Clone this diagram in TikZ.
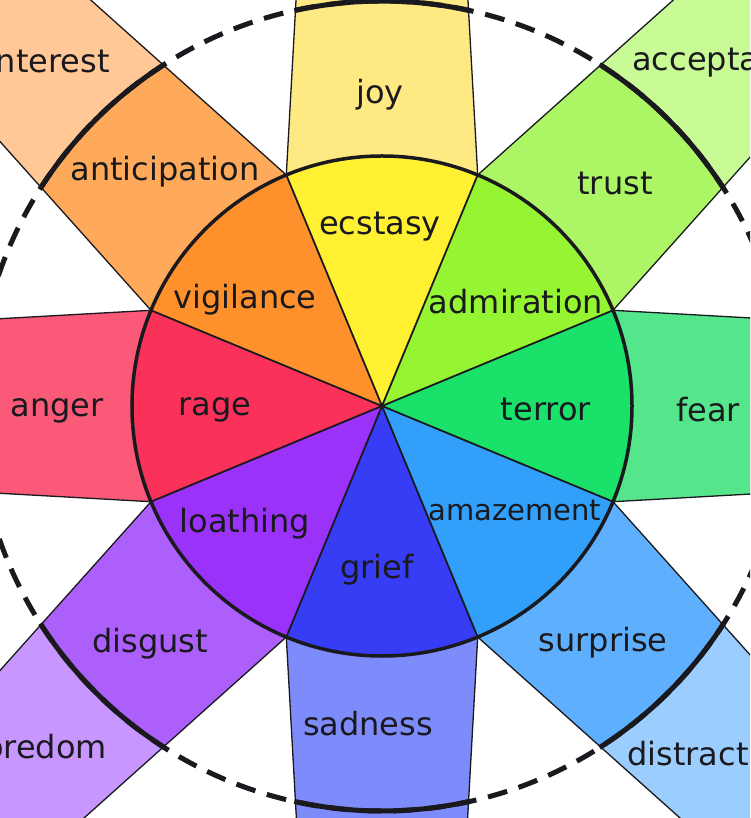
\documentclass[tikz,border=0pt]{standalone}
\usepackage{fontspec}
\setmainfont{DejaVu Sans}
\definecolor{ecstasyC}{RGB}{255,240,50}
\definecolor{joyC}{RGB}{255,233,130}
\definecolor{admirationC}{RGB}{150,245,50}
\definecolor{trustC}{RGB}{172,245,100}
\definecolor{acceptanceC}{RGB}{200,250,150}
\definecolor{terrorC}{RGB}{25,225,105}
\definecolor{fearC}{RGB}{85,230,140}
\definecolor{amazementC}{RGB}{50,160,250}
\definecolor{surpriseC}{RGB}{95,175,255}
\definecolor{distractionC}{RGB}{155,205,255}
\definecolor{griefC}{RGB}{55,60,245}
\definecolor{sadnessC}{RGB}{125,140,250}
\definecolor{loathingC}{RGB}{155,50,250}
\definecolor{disgustC}{RGB}{172,95,250}
\definecolor{boredomC}{RGB}{200,150,255}
\definecolor{rageC}{RGB}{250,50,90}
\definecolor{angerC}{RGB}{250,90,120}
\definecolor{vigilanceC}{RGB}{255,145,45}
\definecolor{anticipationC}{RGB}{255,170,90}
\definecolor{interestC}{RGB}{255,200,150}
\definecolor{inkC}{RGB}{25,25,30}
\begin{document}
\begin{tikzpicture}[x=1pt,y=1pt,
  lbl/.style={font=\fontsize{32}{36}\selectfont, text=inkC, inner sep=0pt},
  petaledge/.style={line width=1.3pt, draw=inkC},
  sectorline/.style={line width=1.8pt, draw=inkC},
  ring/.style={line width=3.5pt, draw=inkC},
  outerring/.style={line width=5pt, draw=inkC}]
\useasboundingbox (-382,-412) rectangle (368,406);
\clip (-382,-412) rectangle (368,406);
% petals
\foreach \ang/\mc/\lc in {90/joyC/joyC, 45/trustC/acceptanceC, 0/fearC/fearC,
   -45/surpriseC/distractionC, -90/sadnessC/sadnessC, -135/disgustC/boredomC,
   180/angerC/angerC, 135/anticipationC/interestC}{
  \begin{scope}[rotate=\ang]
    \fill[\lc] (0,0) -- (231,95.7) -- (700,69.6) -- (700,-69.6) -- (231,-95.7) -- cycle;
    \begin{scope}
      \clip (0,0) circle (405);
      \fill[\mc] (0,0) -- (231,95.7) -- (700,69.6) -- (700,-69.6) -- (231,-95.7) -- cycle;
    \end{scope}
    \draw[petaledge] (231,95.7) -- (700,69.6) (231,-95.7) -- (700,-69.6);
  \end{scope}
}
% outer dashed ring, solid over petals
\draw[outerring, dash pattern=on 20pt off 12pt] (0,0) circle (405);
\foreach \ang in {90,45,0,-45,-90,-135,180,135}{
  \draw[outerring] (\ang-12.5:405) arc[start angle=\ang-12.5, end angle=\ang+12.5, radius=405];
}
% inner sectors
\foreach \ang/\c in {90/ecstasyC, 45/admirationC, 0/terrorC, -45/amazementC,
   -90/griefC, -135/loathingC, 180/rageC, 135/vigilanceC}{
  \fill[\c] (0,0) -- (\ang-22.5:250) arc[start angle=\ang-22.5, end angle=\ang+22.5, radius=250] -- cycle;
}
\foreach \ang in {22.5,67.5,112.5,157.5,202.5,247.5,292.5,337.5}{
  \draw[sectorline] (0,0) -- (\ang:250);
}
\draw[ring] (0,0) circle (250);
% labels (px coordinates converted: x-382, 406-y; baseline = x-height centre + 8.7)
\node[lbl, anchor=base] (joy) at (380-382, 406-95-8.7) {joy};
\node[lbl, anchor=base] (ecstasy) at (380-382, 406-226-8.7) {ecstasy};
\node[lbl, anchor=base east] (interest) at (110-382, 406-64-8.7) {interest};
\node[lbl, anchor=base] (anticipation) at (165-382, 406-172-8.7) {anticipation};
\node[lbl, anchor=base] (vigilance) at (245-382, 406-300-8.7) {vigilance};
\node[lbl, anchor=base] (trust) at (615-382, 406-186-8.7) {trust};
\node[lbl, anchor=base west] (acceptance) at (632-382, 406-62-8.7) {acceptance};
\node[lbl, anchor=base] (admiration) at (516-382, 406-305-8.7) {admiration};
\node[lbl, anchor=base] (fear) at (708-382, 406-413-8.7) {fear};
\node[lbl, anchor=base] (terror) at (546-382, 406-412-8.7) {terror};
\node[lbl, anchor=base, font=\fontsize{29}{34}\selectfont] (amazement) at (515-382, 406-512-8) {amazement};
\node[lbl, anchor=base] (surprise) at (603-382, 406-643-8.7) {surprise};
\node[lbl, anchor=base west] (distraction) at (627-382, 406-757-8.7) {distraction};
\node[lbl, anchor=base] (sadness) at (368-382, 406-727-8.7) {sadness};
\node[lbl, anchor=base] (grief) at (377-382, 406-570-8.7) {grief};
\node[lbl, anchor=base] (disgust) at (150-382, 406-644-8.7) {disgust};
\node[lbl, anchor=base east] (boredom) at (107-382, 406-750-8.7) {boredom};
\node[lbl, anchor=base] (loathing) at (245-382, 406-524-8.7) {loathing};
\node[lbl, anchor=base] (anger) at (57-382, 406-408-8.7) {anger};
\node[lbl, anchor=base] (rage) at (215-382, 406-407-8.7) {rage};
\end{tikzpicture}
\end{document}
